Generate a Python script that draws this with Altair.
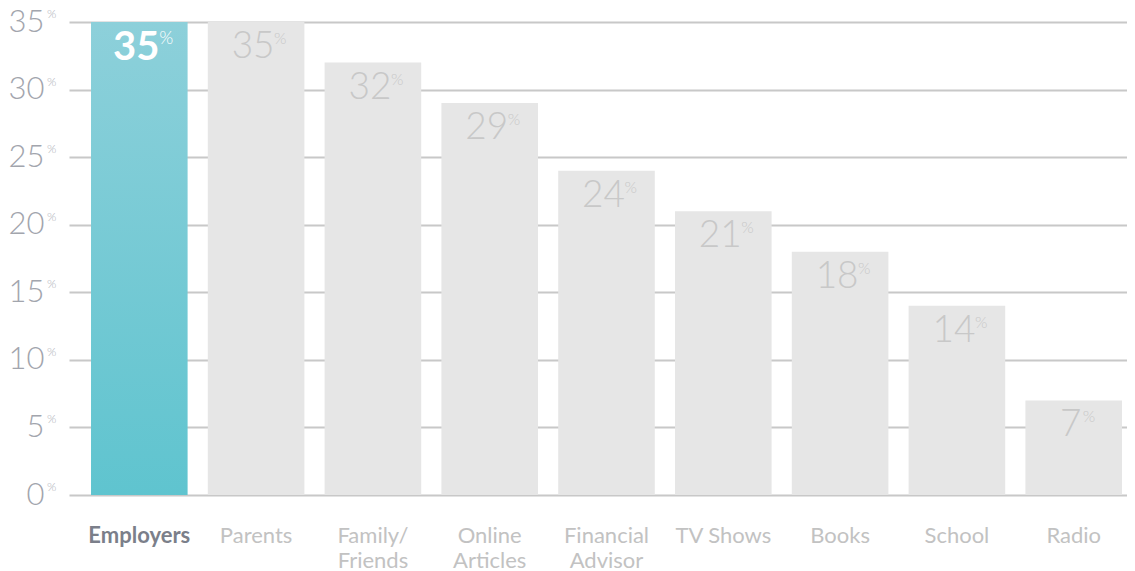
import altair as alt
import pandas as pd

categories = ["Employers", "Parents", "Family/|Friends", "Online|Articles", "Financial|Advisor",
              "TV Shows", "Books", "School", "Radio"]
values = [35, 35, 32, 29, 24, 21, 18, 14, 7]
y_ticks = [0, 5, 10, 15, 20, 25, 30, 35]

df = pd.DataFrame({"cat": categories, "val": values})
ticks_df = pd.DataFrame({"t": y_ticks})

FONT = "Lato"
x_enc = alt.X("cat:N", sort=categories, title=None,
              scale=alt.Scale(paddingInner=0.173, paddingOuter=0.1156, align=0.815),
              axis=alt.Axis(labelAngle=0, labelPadding=30, labelFontSize=22, labelLineHeight=25,
                            labelFont=FONT, labelBaseline="top",
                            labelExpr="split(datum.label, '|')",
                            labelColor={"condition": {"test": "datum.value == 'Employers'", "value": "#7b7f8a"}, "value": "#c2c2c2"},
                            labelFontWeight={"condition": {"test": "datum.value == 'Employers'", "value": "bold"}, "value": "normal"},
                            domain=False, ticks=False, grid=False))
y_enc = alt.Y("val:Q", title=None,
              scale=alt.Scale(domain=[0, 35], nice=False),
              axis=alt.Axis(values=y_ticks, labelFontSize=31, labelFont=FONT, labelFontWeight=300,
                            labelColor="#a2a5ad", labelPadding=25, domain=False, ticks=False,
                            gridColor="#c8c8c8", gridWidth=2))

base = alt.Chart(df)
hl = "datum.cat == 'Employers'"
rest = "datum.cat != 'Employers'"

bars_rest = base.transform_filter(rest).mark_bar(color="#e6e6e6").encode(x=x_enc, y=y_enc)
bars_hl = base.transform_filter(hl).mark_bar(
    color=alt.Gradient(gradient="linear", x1=0, x2=0, y1=0, y2=1,
                       stops=[alt.GradientStop(color="#8dd0da", offset=0),
                              alt.GradientStop(color="#5fc4cf", offset=1)])
).encode(x=x_enc, y=y_enc)

num_rest = base.transform_filter(rest).mark_text(
    font=FONT, fontSize=37, fontWeight=300, color="#c8c8c8", baseline="top", dy=7, dx=-3
).encode(x=x_enc, y=y_enc, text="val:Q")
num_hl = base.transform_filter(hl).mark_text(
    font=FONT, fontSize=40, fontWeight="bold", color="white", baseline="top", dy=6, dx=-3
).encode(x=x_enc, y=y_enc, text="val:Q")

pct_rest2 = base.transform_filter(rest + " && datum.val >= 10").mark_text(
    font=FONT, fontSize=16, fontWeight=300, color="#c8c8c8", baseline="top", align="left", dy=9, dx=18
).encode(x=x_enc, y=y_enc, text=alt.value("%"))
pct_rest1 = base.transform_filter(rest + " && datum.val < 10").mark_text(
    font=FONT, fontSize=16, fontWeight=300, color="#c8c8c8", baseline="top", align="left", dy=9, dx=9
).encode(x=x_enc, y=y_enc, text=alt.value("%"))
pct_hl = base.transform_filter(hl).mark_text(
    font=FONT, fontSize=18, fontWeight=300, color="white", baseline="top", align="left", dy=8, dx=20
).encode(x=x_enc, y=y_enc, text=alt.value("%"))

axis_pct = alt.Chart(ticks_df).mark_text(
    font=FONT, fontSize=12, fontWeight=300, color="#b0b3ba", align="left", dy=-8
).encode(x=alt.value(-22), y=alt.Y("t:Q", scale=alt.Scale(domain=[0, 35], nice=False)),
         text=alt.value("%"))

chart = alt.layer(bars_rest, bars_hl, num_rest, num_hl, pct_rest2, pct_rest1, pct_hl, axis_pct).properties(
    width=1058, height=473,
    autosize=alt.AutoSizeParams(type="none"),
    padding={"left": 61, "top": 14, "right": 0, "bottom": 76},
).configure_view(stroke=None)

chart.save("out.html", embed_options={"renderer": "svg", "actions": False})
